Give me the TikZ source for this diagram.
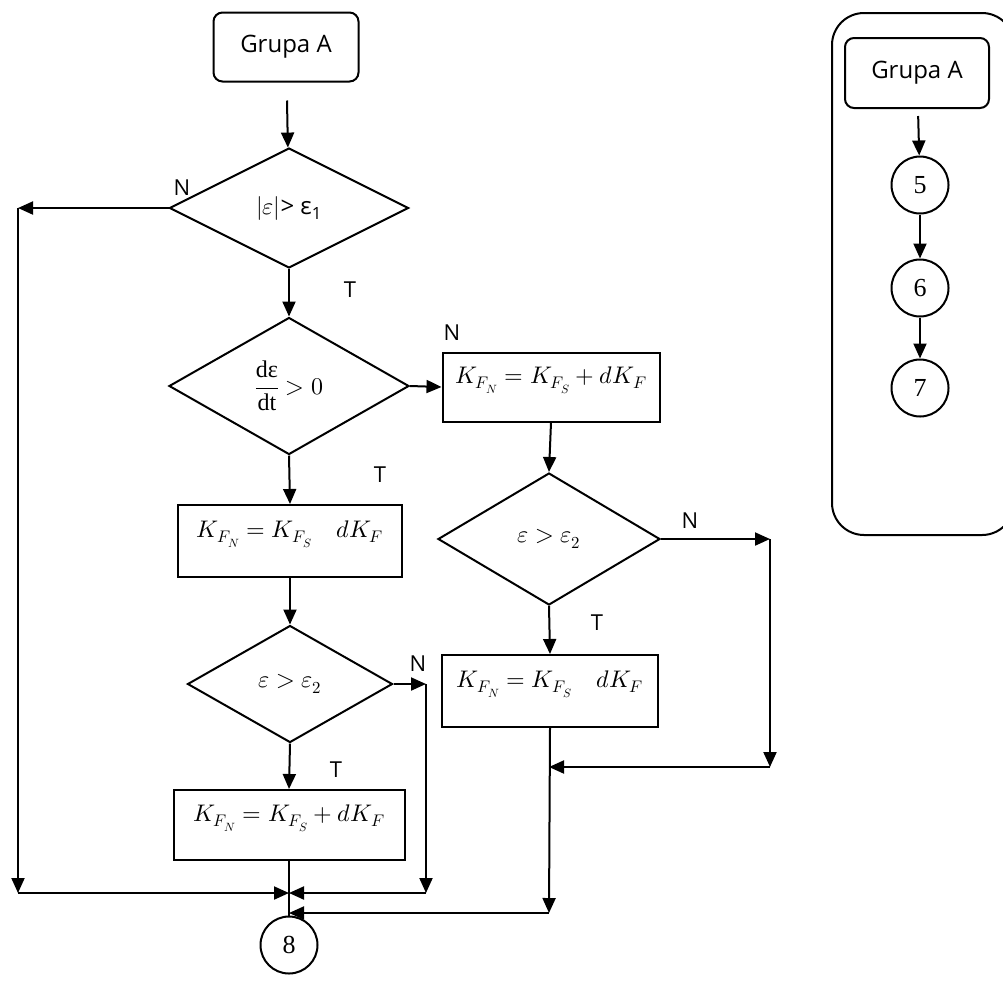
\documentclass[tikz,border=0pt]{standalone}
\usepackage{amsmath}
\usepackage{fontspec}
\usepackage{unicode-math}
\setmainfont{Open Sans}
\newfontfamily\numfont{Liberation Serif}
\usepackage{tikz}
\usetikzlibrary{shapes.geometric, arrows.meta}

\begin{document}
\begin{tikzpicture}[x=1pt, y=-1pt, line width=2pt,
    tip/.style={-{Triangle[length=15pt, width=13pt]}},
    startbox/.style={draw, rounded corners=9pt, minimum width=145pt, minimum height=69pt, font=\fontsize{24}{28}\selectfont},
    decide/.style={draw, diamond, inner sep=0pt, font=\fontsize{24}{28}\selectfont},
    calc/.style={draw, inner sep=0pt, font=\fontsize{24}{28}\selectfont, text height=17pt, text depth=25pt},
    pt/.style={draw, circle, minimum size=57pt, inner sep=0pt, font=\numfont\fontsize{26}{30}\selectfont},
    lbl/.style={font=\fontsize{22}{26}\selectfont}]

    \useasboundingbox (0, 0) rectangle (1003, 989);
    \clip (0, 0) rectangle (1003, 989);

    % draw main flow
    \node[startbox] (grupa) at (286, 47) {Grupa A};
    \node[decide, minimum width=239pt, minimum height=120pt] (absEps) at (289, 208)
      {$|\varepsilon|$> ε\textsubscript{1}};
    \node[decide, minimum width=240pt, minimum height=137pt] (deriv) at (289, 386)
      {$\dfrac{\text{\numfont dε}}{\text{\numfont dt}} > 0$};
    \node[calc, minimum width=217pt, minimum height=69pt] (incTop) at (551, 387)
      {$K_{F_N} = K_{F_S} + dK_F$};
    \node[decide, minimum width=222pt, minimum height=132pt] (epsRight) at (549, 539)
      {$\varepsilon > \varepsilon_2$};
    \node[calc, minimum width=216pt, minimum height=72pt] (decRight) at (550, 691)
      {$K_{F_N} = K_{F_S} \quad dK_F$};
    \node[calc, minimum width=224pt, minimum height=72pt] (decLeft) at (290, 541)
      {$K_{F_N} = K_{F_S} \quad dK_F$};
    \node[decide, minimum width=205pt, minimum height=117pt] (epsLeft) at (290, 684)
      {$\varepsilon > \varepsilon_2$};
    \node[calc, minimum width=231pt, minimum height=70pt] (incLow) at (289, 825)
      {$K_{F_N} = K_{F_S} + dK_F$};
    \node[pt] (p8) at (289, 945) {8};

    % draw branch labels
    \node[lbl] (n1) at (182, 188) {N};
    \node[lbl] (t1) at (350, 290) {T};
    \node[lbl] (n2) at (452, 333) {N};
    \node[lbl] (t2) at (380, 475) {T};
    \node[lbl] (n3) at (418, 664) {N};
    \node[lbl] (t3) at (336, 770) {T};
    \node[lbl] (n4) at (690, 521) {N};
    \node[lbl] (t4) at (597, 623) {T};

    % corner points of the return lines
    \coordinate (leftTop) at (18, 208);
    \coordinate (leftBot) at (18, 893);
    \coordinate (midTop) at (426, 684);
    \coordinate (midBot) at (426, 893);
    \coordinate (rightTop) at (770, 539);
    \coordinate (rightBot) at (770, 767);
    \coordinate (rightJoin) at (549, 767);
    \coordinate (rightLow) at (549, 913);
    \coordinate (joinA) at (289, 893);
    \coordinate (joinB) at (289, 913);

    % draw connectors
    \draw[tip, shorten <=18pt] (grupa) -- (absEps);
    \draw[tip] (absEps.south) -- (deriv.north);
    \draw[tip] (deriv.east) -- (incTop.west);
    \draw[tip] (incTop.south) -- (epsRight.north);
    \draw[tip] (epsRight.south) -- (decRight.north);
    \draw[tip] (deriv.south) -- (decLeft.north);
    \draw[tip] (decLeft.south) -- (epsLeft.north);
    \draw[tip] (epsLeft.south) -- (incLow.north);
    \draw (incLow.south) -- (p8.north);

    \draw[tip] (absEps.west) -- (leftTop);
    \draw[tip] (leftTop) -- (leftBot);
    \draw[tip] (leftBot) -- (joinA);

    \draw[tip] (epsLeft.east) -- (midTop);
    \draw[tip] (midTop) -- (midBot);
    \draw[tip] (midBot) -- (joinA);

    \draw[tip] (epsRight.east) -- (rightTop);
    \draw[tip] (rightTop) -- (rightBot);
    \draw[tip] (rightBot) -- (rightJoin);
    \draw[tip] (decRight.south) -- (rightLow);
    \draw[tip] (rightLow) -- (joinB);

    % draw side panel
    \draw[rounded corners=32pt] (832, 13) rectangle (1014, 535);
    \node[startbox, minimum width=144pt, minimum height=70pt] (grupaB) at (917, 73) {Grupa A};
    \node[pt] (p5) at (920, 185) {5};
    \node[pt] (p6) at (920, 288) {6};
    \node[pt] (p7) at (920, 388) {7};
    \draw[tip, shorten <=7pt] (grupaB) -- (p5);
    \draw[tip] (p5) -- (p6);
    \draw[tip] (p6) -- (p7);

\end{tikzpicture}
\end{document}
